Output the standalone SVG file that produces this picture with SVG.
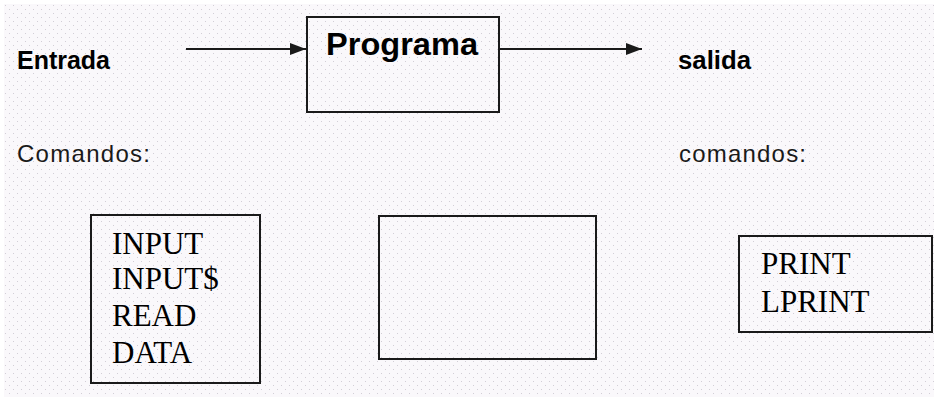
<svg xmlns="http://www.w3.org/2000/svg" width="934" height="397" viewBox="0 0 934 397">
  <style>
    .box { fill: none; stroke: #1a1a1a; stroke-width: 2; }
    .conn { stroke: #1a1a1a; stroke-width: 2.2; fill: none; }
    .bold { font-family: "Liberation Sans", Arial, sans-serif; font-weight: bold; fill: #000; }
    .reg { font-family: "Liberation Sans", Arial, sans-serif; fill: #1a1a1a; font-size: 24px; }
    .cmd { font-family: "Liberation Serif", "Times New Roman", serif; fill: #000; font-size: 31px; }
  </style>
  <defs>
    <pattern id="dots" x="0" y="0" width="8" height="8" patternUnits="userSpaceOnUse">
      <rect width="8" height="8" fill="#faf8fb"/>
      <rect x="1" y="1" width="1" height="1" fill="#d2ced6"/>
      <rect x="5" y="5" width="1" height="1" fill="#d2ced6"/>
    </pattern>
    <marker id="arrow" viewBox="0 0 16 12" refX="16" refY="6" markerWidth="16" markerHeight="12" markerUnits="userSpaceOnUse" orient="auto">
      <path d="M0,0 L16,6 L0,12 Z" fill="#1a1a1a"/>
    </marker>
  </defs>
  <rect width="934" height="397" fill="#ffffff"/>
  <rect x="4" y="4" width="930" height="393" fill="url(#dots)"/>

  <g id="connectors">
    <line class="conn" x1="186" y1="49" x2="306" y2="49" marker-end="url(#arrow)"/>
    <line class="conn" x1="499" y1="49" x2="642" y2="49" marker-end="url(#arrow)"/>
  </g>

  <g id="entrada">
    <text class="bold" x="17" y="69" font-size="26" textLength="93" lengthAdjust="spacingAndGlyphs">Entrada</text>
  </g>
  <g id="programa">
    <rect class="box" x="307" y="17" width="192" height="95"/>
    <text class="bold" x="326" y="55" font-size="31" textLength="152" lengthAdjust="spacingAndGlyphs">Programa</text>
  </g>
  <g id="salida">
    <text class="bold" x="678" y="69" font-size="26" textLength="73" lengthAdjust="spacingAndGlyphs">salida</text>
  </g>

  <g id="comandos-entrada-label">
    <text class="reg" x="17" y="162" textLength="133" lengthAdjust="spacing">Comandos:</text>
  </g>
  <g id="comandos-salida-label">
    <text class="reg" x="679" y="162" textLength="127" lengthAdjust="spacing">comandos:</text>
  </g>

  <g id="entrada-cmds">
    <rect class="box" x="91" y="215" width="169" height="168"/>
    <text class="cmd" x="112" y="254">INPUT</text>
    <text class="cmd" x="112" y="289">INPUT$</text>
    <text class="cmd" x="112" y="326">READ</text>
    <text class="cmd" x="112" y="363">DATA</text>
  </g>
  <g id="programa-cmds">
    <rect class="box" x="379" y="216" width="217" height="143"/>
  </g>
  <g id="salida-cmds">
    <rect class="box" x="739" y="236" width="193" height="96"/>
    <text class="cmd" x="761" y="274">PRINT</text>
    <text class="cmd" x="761" y="312">LPRINT</text>
  </g>
</svg>
